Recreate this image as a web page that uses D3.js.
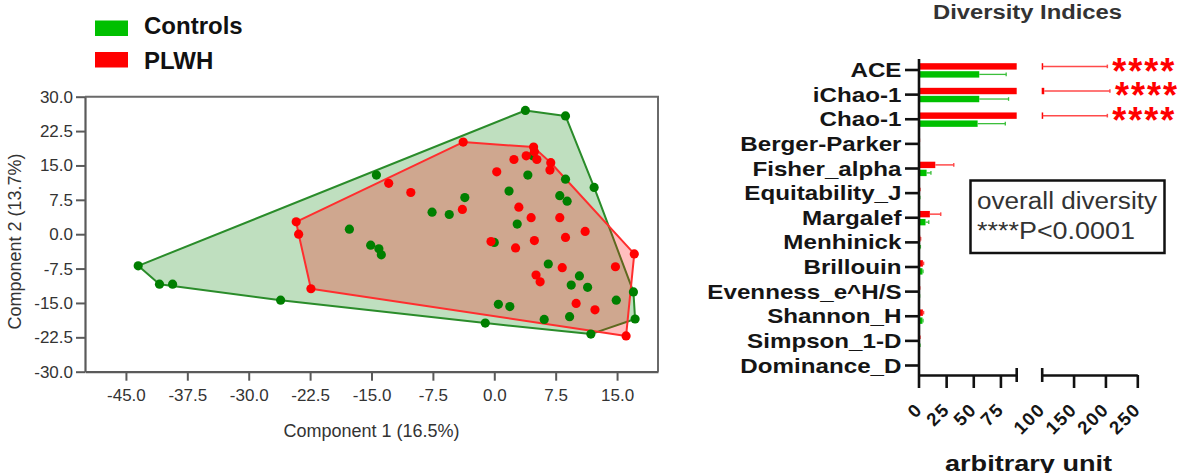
<!DOCTYPE html>
<html><head><meta charset="utf-8">
<script src="https://cdn.jsdelivr.net/npm/d3@7"></script>
<style>
html,body{margin:0;padding:0;background:#fff;}
svg{display:block;font-family:Arial,"Liberation Sans",sans-serif;}
</style></head><body>
<svg id="chart" width="1177" height="473"></svg>
<script>
// ---------- PCA scatter data ----------
const controls = [[-43.5,-6.9],[-40.9,-10.9],[-39.3,-10.9],[-26.1,-14.4],[-14.4,12.9],[-17.7,1.1],[-15.1,-2.4],[-14.1,-3.2],[-13.8,-4.5],[3.8,27.0],[8.7,25.8],[12.2,10.2],[8.7,12.0],[4.1,12.9],[1.8,9.4],[8.0,8.4],[8.9,7.2],[-3.6,8.0],[-7.6,4.8],[-5.5,4.3],[2.8,2.2],[0.0,-1.8],[6.6,-6.5],[10.4,-9.1],[9.4,-11.1],[11.4,-11.6],[17.0,-12.6],[14.9,-14.4],[0.5,-15.3],[1.9,-15.8],[6.1,-18.6],[9.2,-18.0],[17.2,-18.5],[-1.1,-19.4],[11.8,-21.8],[4.7,17.1]];
const plwh = [[-24.2,2.7],[-23.9,0.0],[-22.4,-11.9],[-12.9,11.1],[-10.2,9.1],[-3.8,20.1],[-3.9,5.4],[0.3,13.6],[2.4,16.3],[3.9,17.1],[4.8,19.0],[4.9,18.0],[5.2,16.3],[6.9,15.6],[6.8,14.0],[3.0,5.9],[4.5,3.6],[8.0,3.6],[11.1,0.6],[8.7,-0.7],[4.9,-1.4],[-0.4,-1.6],[2.6,-3.0],[17.1,-4.3],[8.3,-7.3],[14.8,-7.1],[5.1,-8.9],[5.6,-10.4],[10.0,-15.1],[12.3,-16.5],[16.1,-22.2]];
const pcaXTicks = [-45,-37.5,-30,-22.5,-15,-7.5,0,7.5,15];
const pcaYTicks = [-30,-22.5,-15,-7.5,0,7.5,15,22.5,30];
const legendLabels = ["Controls","PLWH"];

// ---------- Diversity indices data ----------
const indices = ["ACE","iChao-1","Chao-1","Berger-Parker","Fisher_alpha","Equitability_J","Margalef","Menhinick","Brillouin","Evenness_e^H/S","Shannon_H","Simpson_1-D","Dominance_D"];
const plwhMean = [101.5,104,101.5,0.3,15,0.8,10,1.2,3.6,0.6,3.6,0.9,0.1];
const plwhSD   = [101.5,103,101.5,0.1,17,0.1,10,0.3,0.6,0.1,0.6,0.05,0.05];
const ctrlMean = [55.5,55.5,54,0.3,7,0.7,6,1.0,3.2,0.5,3.2,0.9,0.1];
const ctrlSD   = [24.8,27,25.5,0.1,4,0.1,3,0.3,0.5,0.1,0.5,0.05,0.05];
const signif   = ["****","****","****","","","","","","","","","",""];
const seg1Ticks = [0,25,50,75];
const seg2Ticks = [100,150,200,250];

const svg = d3.select("#chart");
const GREEN_DOT = "#007f00", RED = "#ff0000", BRIGHT_GREEN = "#00c000";

// ================= LEFT PANEL =================
const sx = d3.scaleLinear().domain([-50,20]).range([85,658]);
const sy = d3.scaleLinear().domain([-30,30]).range([371.7,96.7]);
const left = svg.append("g");

// legend
legendLabels.forEach((lab,i)=>{
  left.append("rect").attr("x",95).attr("y",20.5+i*31.5).attr("width",33).attr("height",15.5)
    .attr("fill", i===0?BRIGHT_GREEN:RED);
  left.append("text").attr("x",144).attr("y",34+i*35).attr("font-size",24).attr("font-weight","bold")
    .attr("fill","#111").text(lab);
});

// hulls
function hullOf(pts){ return d3.polygonHull(pts.map(p=>[sx(p[0]),sy(p[1])])); }
const gh = hullOf(controls), rh = hullOf(plwh);
left.append("path").attr("d","M"+gh.join("L")+"Z").attr("fill","rgba(0,128,0,0.25)")
  .attr("stroke","#2a8c2a").attr("stroke-width",2).attr("stroke-linejoin","round");
left.append("path").attr("d","M"+rh.join("L")+"Z").attr("fill","rgba(255,0,0,0.25)")
  .attr("stroke","#ff2e2e").attr("stroke-width",2).attr("stroke-linejoin","round");

// points
left.append("g").selectAll("circle").data(controls).join("circle")
  .attr("cx",d=>sx(d[0])).attr("cy",d=>sy(d[1])).attr("r",4.6).attr("fill",GREEN_DOT);
left.append("g").selectAll("circle").data(plwh).join("circle")
  .attr("cx",d=>sx(d[0])).attr("cy",d=>sy(d[1])).attr("r",4.6).attr("fill",RED);

// frame top/right
left.append("path").attr("d",`M${sx(-50)},${sy(30)}H${sx(20)}V${sy(-30)}`)
  .attr("fill","none").attr("stroke","#6a6a6a").attr("stroke-width",2);

// axes
const fmt = d => d.toFixed(1);
const ax = left.append("g").attr("transform",`translate(0,${sy(-30)})`)
  .call(d3.axisBottom(sx).tickValues(pcaXTicks).tickFormat(fmt).tickSize(9).tickSizeOuter(0).tickPadding(8));
const ay = left.append("g").attr("transform",`translate(${sx(-50)},0)`)
  .call(d3.axisLeft(sy).tickValues(pcaYTicks).tickFormat(fmt).tickSize(9).tickSizeOuter(0).tickPadding(3));
[ax,ay].forEach(a=>{
  a.select(".domain").attr("stroke","#5a5a5a").attr("stroke-width",2.2);
  a.selectAll(".tick line").attr("stroke","#5a5a5a").attr("stroke-width",2);
  a.selectAll(".tick text").attr("font-size",17).attr("fill","#333").attr("font-family","Arial, 'Liberation Sans', sans-serif");
});
left.append("text").attr("x",371.5).attr("y",437).attr("text-anchor","middle").attr("font-size",18)
  .attr("fill","#333").text("Component 1 (16.5%)");
left.append("text").attr("transform","translate(21,241.5) rotate(-90)").attr("text-anchor","middle")
  .attr("font-size",18).attr("fill","#333").text("Component 2 (13.7%)");

// ================= RIGHT PANEL =================
const right = svg.append("g");
const y = d3.scalePoint().domain(indices).range([69.5,365]);
const x1 = d3.scaleLinear().domain([0,90]).range([919,1016.7]);
const x2 = d3.scaleLinear().domain([100,250]).range([1041.7,1137.3]);
const baseY = 375;

// title
right.append("text").attr("x",933).attr("y",18.5).attr("font-size",19.5).attr("font-weight","bold")
  .attr("fill","#333").attr("textLength",189).attr("lengthAdjust","spacingAndGlyphs").text("Diversity Indices");

// bars
function drawBar(g, mean, sd, yTop, h, fill, errColor, errW){
  if(mean>0) g.append("rect").attr("x",x1(0)).attr("y",yTop).attr("width",x1(Math.min(mean,90))-x1(0)).attr("height",h).attr("fill",fill);
  if(mean>100) g.append("rect").attr("x",x2(100)).attr("y",yTop).attr("width",Math.max(1.5,x2(mean)-x2(100))).attr("height",h).attr("fill",fill);
  const ey = yTop+h/2;
  let xa, xb;
  if(mean>=100){ xa=x2(mean); xb=x2(mean+sd); }
  else { xa=x1(mean); xb=x1(Math.min(mean+sd,90)); }
  g.append("line").attr("x1",xa).attr("x2",xb).attr("y1",ey).attr("y2",ey).attr("stroke",errColor).attr("stroke-width",errW);
  g.append("line").attr("x1",xb).attr("x2",xb).attr("y1",ey-1.8).attr("y2",ey+1.8).attr("stroke",errColor).attr("stroke-width",errW);
}
const bars = right.append("g");
indices.forEach((c,i)=>{
  const cy = y(c);
  drawBar(bars, plwhMean[i], plwhSD[i], cy-6.3, 6.4, RED, "#ff4a4a", 1.5);
  drawBar(bars, ctrlMean[i], ctrlSD[i], cy+1.7, 6.4, BRIGHT_GREEN, "#3cbf3c", 1.3);
  if(signif[i]){
    const mEnd = plwhMean[i]>=100 ? x2(plwhMean[i]+plwhSD[i]) : x1(plwhMean[i]+plwhSD[i]);
    bars.append("text").attr("x",mEnd+5).attr("y",cy-2.8+17).attr("font-size",36).attr("font-weight","bold")
      .attr("fill",RED).attr("letter-spacing",2).text(signif[i]);
  }
});

// y axis
const yAx = right.append("g").attr("transform","translate(919,0)")
  .call(d3.axisLeft(y).tickSize(14).tickSizeOuter(0).tickPadding(3));
yAx.select(".domain").remove();
yAx.selectAll(".tick line").attr("stroke","#111").attr("stroke-width",2.6);
yAx.selectAll(".tick text").attr("x",0).attr("dy","0.36em").attr("font-size",19.5).attr("font-weight","bold")
  .attr("fill","#151515").attr("font-family","Arial, 'Liberation Sans', sans-serif")
  .attr("transform","translate(-17.5,0) scale(1.24,1)");
right.append("line").attr("x1",919).attr("x2",919).attr("y1",59).attr("y2",baseY+13).attr("stroke","#111").attr("stroke-width",2.6);

// x axes (broken)
function styleX(a){
  a.select(".domain").attr("stroke","#111").attr("stroke-width",2.6);
  a.selectAll(".tick line").attr("stroke","#111").attr("stroke-width",2.6);
  a.selectAll(".tick text").attr("x",0).attr("y",0).attr("dy","0.35em").attr("text-anchor","end")
    .attr("transform","translate(-0.5,31) rotate(-45)").attr("font-size",18.5).attr("font-weight","bold")
    .attr("letter-spacing",1.5).attr("fill","#151515").attr("font-family","Arial, 'Liberation Sans', sans-serif");
}
const xa1 = right.append("g").attr("transform",`translate(0,${baseY})`)
  .call(d3.axisBottom(x1).tickValues(seg1Ticks).tickSize(13).tickSizeOuter(0));
const xa2 = right.append("g").attr("transform",`translate(0,${baseY})`)
  .call(d3.axisBottom(x2).tickValues(seg2Ticks).tickSize(13).tickSizeOuter(0));
styleX(xa1); styleX(xa2);
xa1.selectAll(".tick").filter(d=>d===0).select("line").remove();
xa2.selectAll(".tick").filter(d=>d===100).select("line").attr("y1",-7).attr("y2",7);
right.append("line").attr("x1",x1(90)).attr("x2",x1(90)).attr("y1",baseY-7).attr("y2",baseY+7).attr("stroke","#111").attr("stroke-width",2.6);

right.append("text").attr("x",945).attr("y",471).attr("font-size",22).attr("font-weight","bold")
  .attr("fill","#151515").attr("textLength",167).attr("lengthAdjust","spacingAndGlyphs").text("arbitrary unit");

// annotation box
right.append("rect").attr("x",970.5).attr("y",180.5).attr("width",194).attr("height",72.5)
  .attr("fill","none").attr("stroke","#111").attr("stroke-width",2.5);
right.append("text").attr("x",977).attr("y",209).attr("font-size",23).attr("fill","#333")
  .attr("textLength",180).attr("lengthAdjust","spacingAndGlyphs").text("overall diversity");
right.append("text").attr("x",977).attr("y",239).attr("font-size",23).attr("fill","#333")
  .attr("textLength",158).attr("lengthAdjust","spacingAndGlyphs").text("****P<0.0001");
</script>
</body></html>
